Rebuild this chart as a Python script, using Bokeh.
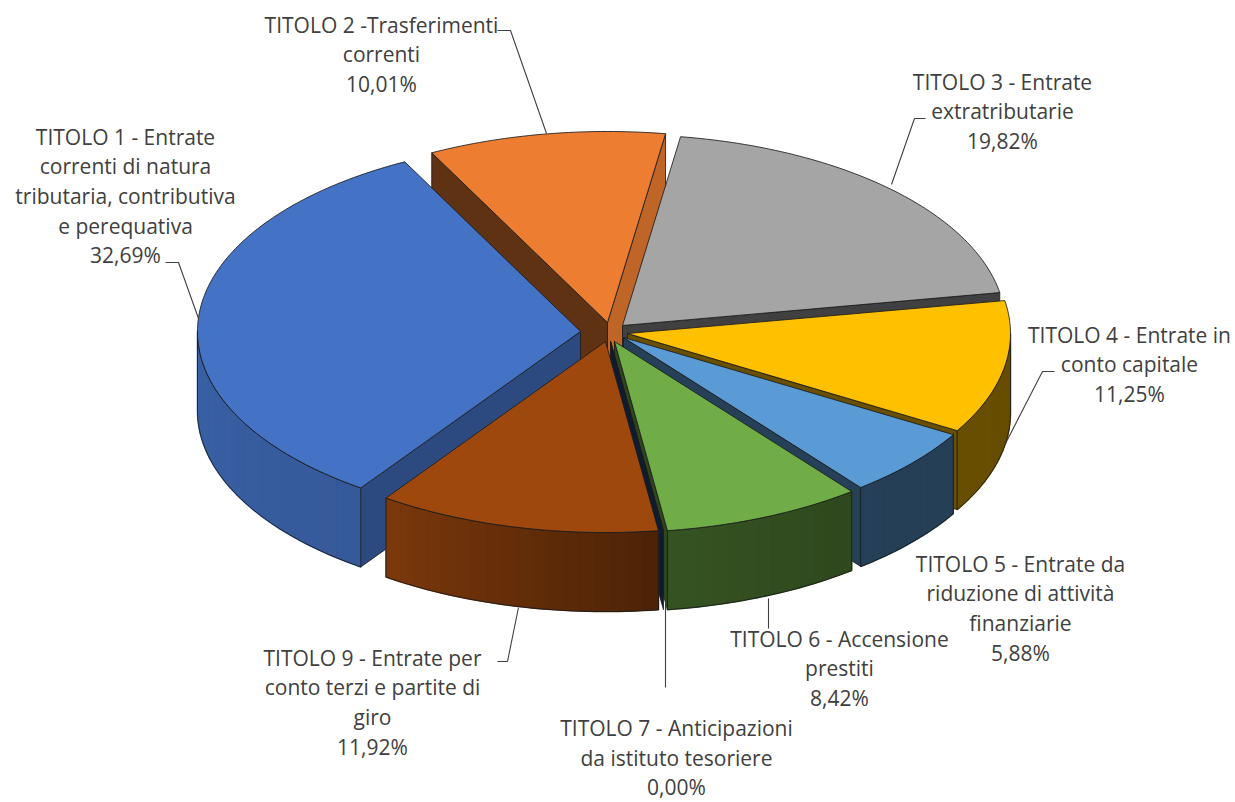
import numpy as np
from bokeh.embed import file_html
from bokeh.resources import INLINE
from bokeh.plotting import figure
from bokeh.models import Range1d
from bokeh.core.properties import value

# ---- data ----
titoli = ["TITOLO 1", "TITOLO 2", "TITOLO 3", "TITOLO 4", "TITOLO 5", "TITOLO 6", "TITOLO 7", "TITOLO 9"]
percentuali = [32.69, 10.01, 19.82, 11.25, 5.88, 8.42, 0.00, 11.92]
label_lines = [
    ["TITOLO 1 - Entrate", "correnti di natura", "tributaria, contributiva", "e perequativa"],
    ["TITOLO 2 -Trasferimenti", "correnti"],
    ["TITOLO 3 - Entrate", "extratributarie"],
    ["TITOLO 4 - Entrate in", "conto capitale"],
    ["TITOLO 5 - Entrate da", "riduzione di attività", "finanziarie"],
    ["TITOLO 6 - Accensione", "prestiti"],
    ["TITOLO 7 - Anticipazioni", "da istituto tesoriere"],
    ["TITOLO 9 - Entrate per", "conto terzi e partite di", "giro"],
]
colori = ["#4472C4", "#ED7D31", "#A5A5A5", "#FFC000", "#5B9BD5", "#70AD47", "#264478", "#9E480E"]

# ---- style / geometry ----
W, H = 1235, 802
CX, CY, RX, RY, DEPTH = 607, 333, 383, 191, 79
FIRST_ANGLE = 215.0
explode = [(-27, -2), (0, -11), (15, -8), (20, 0), (16, 4), (7, 8), (3, 8), (-2, 8)]
shade_start = [0.65, 0.40, 0.40, 0.40, 0.40, 0.40, 0.40, 0.40]
shade_end = [0.40, 0.81, 0.39, 0.41, 0.41, 0.41, 0.40, 0.40]
draw_order = [1, 2, 3, 4, 0, 5, 6, 7]
label_pos = [(125, 136), (381, 24), (1002, 81), (1129, 334), (1020, 563), (839, 638), (676, 727.5), (372, 657)]
LINE_H = 29.7
leaders = [
    [(165, 262), (178, 262), (198, 318)],
    [(497, 30), (510, 30), (546, 133)],
    [(925, 118), (914, 118), (891, 184)],
    [(1054, 371), (1042, 371), (1005, 443)],
    [(768, 598), (768, 628)],
    [(665, 600), (665, 687)],
    [(497, 661), (507, 661), (518, 607)],
]
EDGE = "#1c1c1c"

p = figure(width=W, height=H, output_backend="svg", toolbar_location=None,
           x_range=Range1d(0, W), y_range=Range1d(H, 0),
           min_border=0, outline_line_color=None, background_fill_color="white",
           border_fill_color="white")
p.axis.visible = False
p.grid.visible = False


def shade(hex_col, f):
    r, g, b = (int(hex_col[i:i + 2], 16) for i in (1, 3, 5))
    return "#%02x%02x%02x" % (round(r * f), round(g * f), round(b * f))


def arc(ax, ay, t0, t1, n=None):
    n = n or max(2, int(abs(t1 - t0)) + 2)
    t = np.radians(np.linspace(t0, t1, n))
    return ax + RX * np.sin(t), ay - RY * np.cos(t)


def radial_wall(ax, ay, t, col):
    ex, ey = arc(ax, ay, t, t, 2)
    xs = [ax, ex[0], ex[0], ax]
    ys = [ay, ey[0], ey[0] + DEPTH, ay + DEPTH]
    p.patch(xs, ys, fill_color=col, line_color=EDGE, line_width=1, line_alpha=0.85)


angles = np.cumsum([0] + [v * 3.6 for v in percentuali]) + FIRST_ANGLE
outer_t = [90, 140, 172, 215, 270]
outer_f = [0.40, 0.41, 0.48, 0.78, 0.85]

for i in draw_order:
    t0, t1 = angles[i], angles[i + 1]
    col = colori[i]
    dx, dy = explode[i]
    ax, ay = CX + dx, CY + dy

    # back-face culling of the two radial walls
    if 180 < (t0 % 360) < 360:
        radial_wall(ax, ay, t0, shade(col, shade_start[i]))
    if 0 < (t1 % 360) < 180:
        radial_wall(ax, ay, t1, shade(col, shade_end[i]))

    # outer wall: the part of the rim facing the viewer (90..270 degrees)
    a0, a1 = None, None
    for off in (0, 360, -360):
        lo, hi = max(t0 + off, 90), min(t1 + off, 270)
        if hi > lo:
            a0, a1 = lo, hi
            break
    if a0 is not None:
        edges = np.linspace(a0, a1, max(2, int((a1 - a0) / 2.5) + 2))
        for u, v in zip(edges[:-1], edges[1:]):
            x1, y1 = arc(ax, ay, u, v, 3)
            c = shade(col, float(np.interp((u + v) / 2, outer_t, outer_f)))
            p.patch(list(x1) + list(x1[::-1]), list(y1) + list((y1 + DEPTH)[::-1]),
                    fill_color=c, line_color=c, line_width=1.5)
        x1, y1 = arc(ax, ay, a0, a1)
        p.patch(list(x1) + list(x1[::-1]), list(y1) + list((y1 + DEPTH)[::-1]),
                fill_alpha=0, line_color=EDGE, line_width=1, line_alpha=0.85)

    # top face
    x1, y1 = arc(ax, ay, t0, t1)
    p.patch([ax] + list(x1), [ay] + list(y1), fill_color=col,
            line_color=EDGE, line_width=1, line_alpha=0.85)

# leader lines
for pts in leaders:
    p.line([q[0] for q in pts], [q[1] for q in pts], line_color="#404040", line_width=1.1)

# labels
tx, ty, tt = [], [], []
for lines, pc, (lx, ly) in zip(label_lines, percentuali, label_pos):
    rows = lines + [f"{pc:.2f}".replace(".", ",") + "%"]
    for k, s in enumerate(rows):
        tx.append(lx)
        ty.append(ly + k * LINE_H)
        tt.append(s)
p.text(tx, ty, text=tt, text_align="center", text_baseline="middle",
       text_font=value("Open Sans"), text_font_size="21px", text_color="#404040")

open("out.html", "w").write(file_html(p, INLINE))
